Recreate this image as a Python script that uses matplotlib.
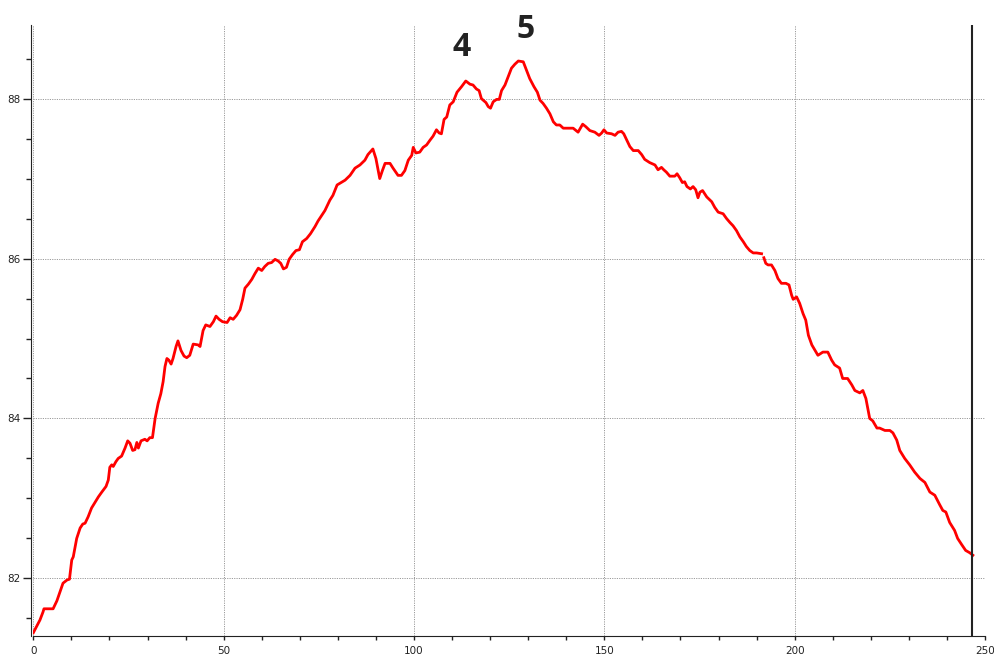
import numpy as np
import matplotlib
matplotlib.use("Agg")
import matplotlib.pyplot as plt
from matplotlib.ticker import MultipleLocator

# values (x position, reading)
x_vals = [0, 1.75, 2.55, 2.8, 5.2, 6.2, 7.0, 7.8, 8.85, 9.5, 10.1, 10.5, 11.4, 12.3, 13.0,
          13.6, 14.4, 15.3, 16.2, 17.1, 18.0, 19.1, 19.7, 20.1, 20.6, 21.0, 21.7, 22.3, 23.2,
          24.1, 24.8, 25.4, 26.1, 26.7, 27.2, 27.6, 28.3, 29.3, 29.9, 30.6, 31.3, 32.0, 32.8,
          33.5, 34.1, 34.6, 35.1, 35.6, 36.2, 36.7, 37.5, 38.0, 38.8, 39.6, 40.3, 41.1, 42.0,
          43.3, 43.8, 44.6, 45.3, 46.4, 47.3, 48.0, 48.8, 49.7, 50.9, 51.7, 52.5, 53.4, 54.3,
          55.0, 55.6, 56.5, 57.4, 58.2, 59.1, 60.0, 60.8, 61.7, 62.6, 63.5, 64.3, 65.0, 65.7,
          66.5, 67.2, 68.1, 69.0, 69.9, 70.7, 71.8, 72.8, 74.0, 74.8, 76.6, 77.9, 78.7, 79.8,
          80.5, 81.9, 83.2, 84.5, 85.8, 87.1, 87.9, 89.2, 90.0, 91.0, 91.7, 92.4, 93.7, 94.5,
          95.8, 96.7, 97.6, 98.5, 99.4, 99.8, 100.5, 101.5, 102.4, 103.3, 104.2, 105.0, 105.9,
          106.6, 107.2, 107.9, 108.6, 109.4, 110.3, 111.3, 112.5, 113.6, 114.7, 115.5, 116.4,
          117.1, 117.7, 118.9, 119.5, 120.1, 120.8, 121.7, 122.4, 123.0, 123.9, 124.7, 125.6,
          126.5, 127.4, 128.7, 129.6, 130.4, 131.5, 132.4, 133.1, 133.9, 134.8, 135.7, 136.6,
          137.4, 138.3, 139.2, 141.8, 143.1, 144.3, 145.1, 146.2, 147.5, 148.6, 149.3, 149.9,
          150.6, 151.9, 152.8, 153.6, 154.5, 155.1, 155.8, 156.7, 157.6, 158.9, 159.8, 160.6,
          161.9, 163.3, 164.1, 165.0, 165.6, 166.3, 167.2, 168.5, 169.1, 169.8, 170.5, 171.1,
          171.7, 172.6, 173.3, 174.0, 174.6, 175.1, 175.8, 176.9, 178.2, 179.0, 179.9, 181.2,
          182.1, 183.0, 183.8, 184.7, 185.6, 186.5, 187.3, 188.2, 189.1, 190.0, 191.3, 191.6,
          191.9, 192.4, 193.0, 193.9, 194.8, 195.6, 196.5, 197.7, 198.5, 199.2, 199.6, 200.5,
          201.3, 202.2, 202.9, 203.6, 204.5, 206.1, 207.4, 208.7, 209.7, 210.5, 211.8, 212.6,
          213.9, 215.0, 215.8, 217.1, 217.9, 218.7, 219.7, 220.5, 221.6, 222.3, 223.7, 225.0,
          225.8, 226.8, 227.6, 228.9, 230.2, 231.5, 232.9, 234.2, 235.5, 236.8, 238.1, 238.9,
          239.7, 240.7, 242.0, 242.8, 243.9, 244.9, 246.0, 246.8]

y_vals = [81.32, 81.48, 81.58, 81.62, 81.62, 81.72, 81.83, 81.94, 81.98, 81.99, 82.23, 82.27,
          82.5, 82.63, 82.68, 82.69, 82.77, 82.88, 82.95, 83.02, 83.08, 83.15, 83.23, 83.39,
          83.42, 83.40, 83.46, 83.5, 83.53, 83.63, 83.72, 83.69, 83.6, 83.61, 83.70, 83.63,
          83.72, 83.74, 83.72, 83.76, 83.76, 84.0, 84.19, 84.31, 84.46, 84.65, 84.75, 84.73,
          84.68, 84.75, 84.9, 84.97, 84.85, 84.78, 84.76, 84.79, 84.93, 84.92, 84.9, 85.1,
          85.17, 85.15, 85.21, 85.28, 85.24, 85.21, 85.2, 85.26, 85.24, 85.29, 85.36, 85.49,
          85.63, 85.68, 85.74, 85.81, 85.88, 85.85, 85.9, 85.94, 85.95, 85.99, 85.97, 85.94,
          85.87, 85.89, 85.99, 86.05, 86.1, 86.11, 86.21, 86.25, 86.31, 86.4, 86.47, 86.6,
          86.73, 86.79, 86.92, 86.94, 86.98, 87.04, 87.13, 87.17, 87.23, 87.3, 87.37, 87.25,
          87.0, 87.1, 87.19, 87.19, 87.13, 87.04, 87.04, 87.1, 87.23, 87.29, 87.39, 87.32,
          87.33, 87.39, 87.42, 87.48, 87.53, 87.61, 87.57, 87.56, 87.74, 87.77, 87.92, 87.96,
          88.08, 88.15, 88.22, 88.18, 88.17, 88.12, 88.1, 88.0, 87.95, 87.9, 87.88, 87.96,
          87.99, 87.99, 88.1, 88.17, 88.27, 88.38, 88.43, 88.47, 88.46, 88.35, 88.25, 88.15,
          88.08, 87.98, 87.94, 87.88, 87.81, 87.71, 87.67, 87.67, 87.63, 87.63, 87.58, 87.68,
          87.65, 87.6, 87.58, 87.54, 87.57, 87.61, 87.57, 87.56, 87.54, 87.58, 87.59, 87.56,
          87.49, 87.4, 87.35, 87.35, 87.3, 87.24, 87.2, 87.17, 87.11, 87.14, 87.11, 87.08,
          87.03, 87.03, 87.06, 87.01, 86.95, 86.96, 86.9, 86.87, 86.9, 86.86, 86.76, 86.83,
          86.85, 86.77, 86.71, 86.64, 86.58, 86.56, 86.5, 86.45, 86.41, 86.35, 86.27, 86.21,
          86.15, 86.1, 86.07, 86.07, 86.06, np.nan, 86.01, 85.94, 85.92, 85.92, 85.85, 85.75,
          85.69, 85.69, 85.67, 85.54, 85.49, 85.52, 85.44, 85.31, 85.23, 85.04, 84.92, 84.79,
          84.83, 84.83, 84.73, 84.67, 84.63, 84.5, 84.5, 84.42, 84.35, 84.32, 84.35, 84.25,
          84.0, 83.97, 83.88, 83.88, 83.85, 83.85, 83.82, 83.73, 83.6, 83.5, 83.42, 83.33,
          83.25, 83.2, 83.08, 83.04, 82.92, 82.85, 82.83, 82.7, 82.6, 82.5, 82.42, 82.35,
          82.32, 82.29]

marker_x = 246.7
peak_labels = ["4", "5"]
peak_x = [112.5, 129.4]
peak_y = [88.645, 88.87]

fig = plt.figure(figsize=(9.94, 6.62), dpi=100)
ax = fig.add_axes([0.0335, 0.0393, 0.9575, 0.9229])

ax.plot(x_vals, y_vals, color="#ff0000", linewidth=2.0, solid_joinstyle="round")
ax.axvline(marker_x, color="#222222", linewidth=1.5)

for lab, px, py in zip(peak_labels, peak_x, peak_y):
    ax.text(px, py, lab, ha="center", va="center", fontsize=23, fontweight="bold",
            family="Open Sans", color="#222222", clip_on=False)

ax.set_xlim(0, 250)
ax.set_ylim(81.28, 88.92)
ax.xaxis.set_major_locator(MultipleLocator(50))
ax.xaxis.set_minor_locator(MultipleLocator(10))
ax.yaxis.set_major_locator(MultipleLocator(2))
ax.yaxis.set_minor_locator(MultipleLocator(0.5))

ax.grid(True, which="major", linestyle=(0, (1.2, 1.2)), color="#9a9a9a", linewidth=0.7)
ax.set_axisbelow(True)

for s in ["top", "right"]:
    ax.spines[s].set_visible(False)
ax.spines["left"].set_position(("outward", 2))
ax.spines["left"].set_color("#222222")
ax.spines["bottom"].set_color("#222222")

ax.tick_params(axis="x", which="both", direction="out", length=3, width=1, pad=4,
               labelsize=7.5, colors="#222222")
ax.tick_params(axis="y", which="major", direction="out", length=5.5, width=1, pad=2,
               labelsize=7.5, colors="#222222")
ax.tick_params(axis="y", which="minor", direction="out", length=3.5, width=1, colors="#222222")

fig.savefig("out.png", dpi=100)
